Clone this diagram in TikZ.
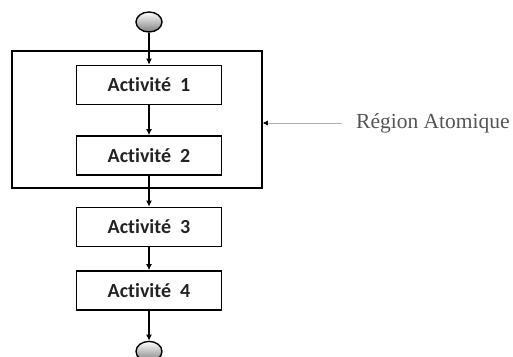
\documentclass[tikz,border=0pt]{standalone}
\usepackage{fontspec}
\usepackage{tikz}
\usetikzlibrary{positioning, shapes.geometric, arrows.meta}
\newfontfamily\actfont[Ligatures=NoCommon]{Carlito}
\newfontfamily\regfont{Liberation Serif}
\definecolor{ActGray}{RGB}{35, 35, 35}
\definecolor{NoteGray}{RGB}{85, 85, 85}

\begin{document}
\begin{tikzpicture}[x=1pt, y=1pt, node distance=30pt, >={Latex[length=6pt, width=6pt]}]
    \tikzstyle{activity} = [rectangle, draw, line width=1.5pt, minimum width=145pt, minimum height=39pt, inner sep=0pt, text=ActGray, font=\actfont\bfseries\fontsize{20}{24}\selectfont]
    \tikzstyle{terminal} = [ellipse, draw, line width=1.4pt, minimum width=26pt, minimum height=20pt, inner sep=0pt, top color=white, bottom color=gray]
    \tikzstyle{regionbox} = [rectangle, draw, line width=1.6pt, minimum width=250pt, minimum height=137pt, inner sep=0pt]
    \tikzstyle{regionlabel} = [inner sep=0pt, anchor=west, text=NoteGray, font=\regfont\fontsize{21.5}{25}\selectfont]
    \tikzstyle{arrow} = [line width=1.3pt, ->]
    \tikzstyle{notearrow} = [line width=0.5pt, draw=gray!60, -{Latex[length=5pt, width=5pt, black]}]

    \useasboundingbox (0,0) rectangle (513,356);

    \node [regionbox] (region) at (137,236.5) {};
    \node [terminal] (start) at (149,334) {};
    \node [activity, below=32pt of start] (act1) {Activité~~1};
    \node [activity, below=30pt of act1] (act2) {Activité~~2};
    \node [activity, below=31pt of act2] (act3) {Activité~~3};
    \node [activity, below=23pt of act3] (act4) {Activité~~4};
    \node [terminal, below=30pt of act4] (end) {};
    \node [regionlabel] (label) at (356,233) {Région Atomique};

    \draw [arrow] (start) -- (act1);
    \draw [arrow] (act1) -- (act2);
    \draw [arrow] (act2) -- (act3);
    \draw [arrow] (act3) -- (act4);
    \draw [arrow] (act4) -- (end);
    \draw [notearrow, shorten <=14pt] (label.west) -- (label.west -| region.east);
\end{tikzpicture}
\end{document}
